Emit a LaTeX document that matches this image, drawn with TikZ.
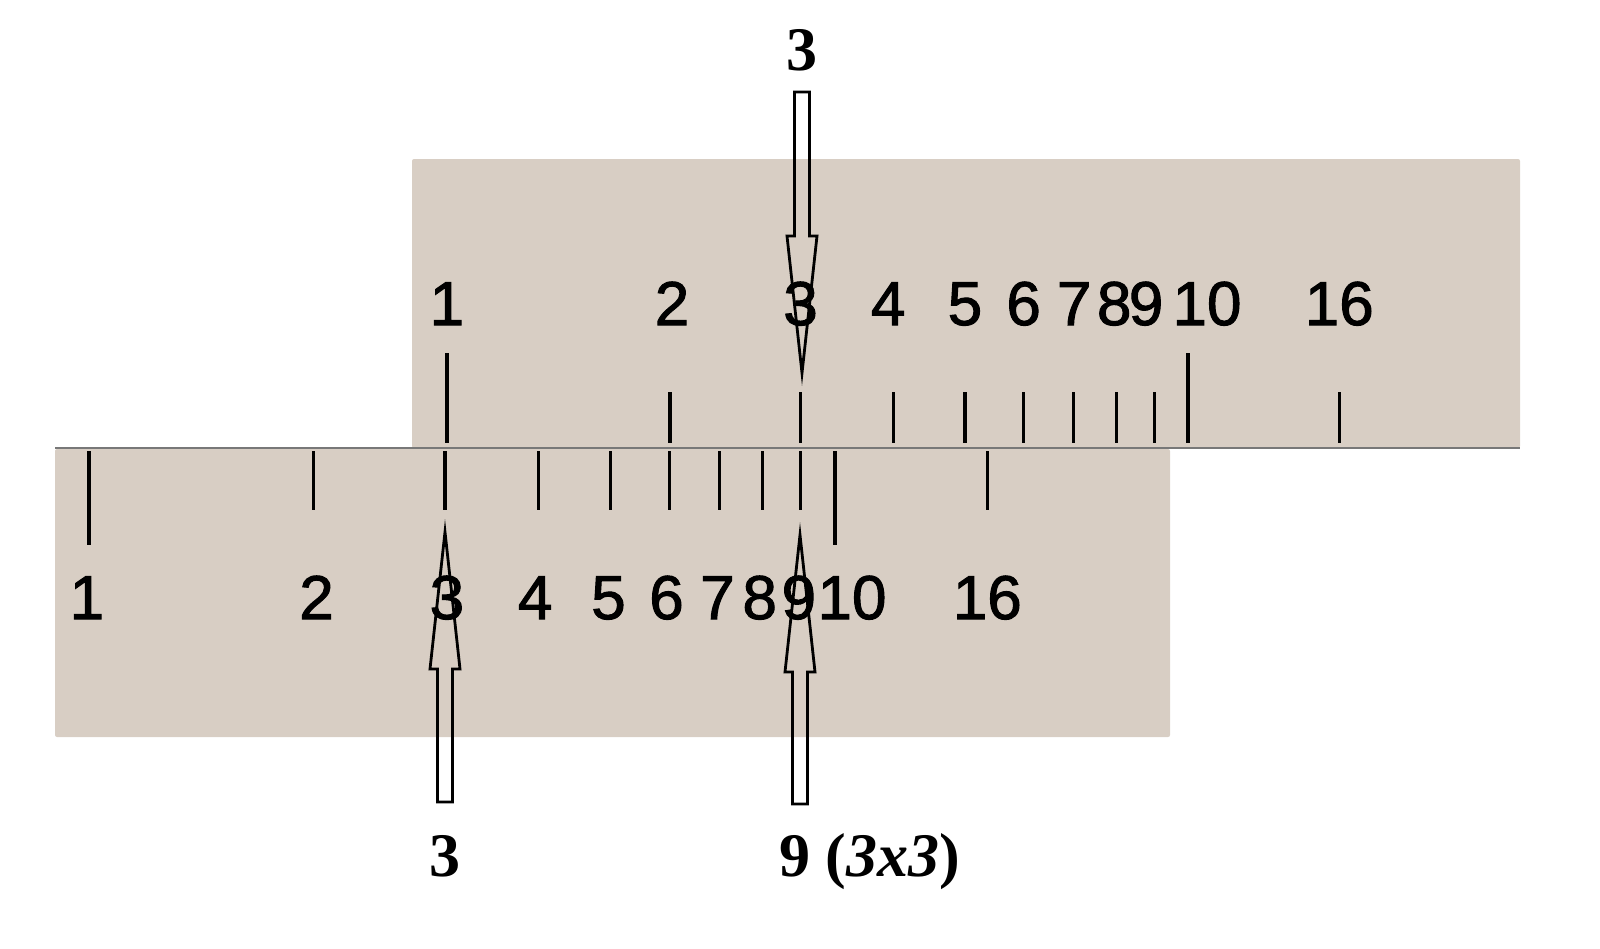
\documentclass[tikz,border=0pt]{standalone}
\usepackage{fontspec}
\setmainfont{Liberation Serif}
\newfontfamily\rulerfont[FakeBold=1.6]{Liberation Sans}
\usetikzlibrary{calc}
\definecolor{rulerbeige}{RGB}{216,206,196}
\definecolor{edgegray}{RGB}{120,120,120}
\tikzset{
    ruler/.style={fill=rulerbeige, rounded corners=2pt},
    tick/.style={line width=3.2pt},
    scalenum/.style={font=\rulerfont\fontsize{62}{62}\selectfont, inner sep=0pt, anchor=base},
    caption/.style={font=\bfseries\fontsize{62}{62}\selectfont, inner sep=0pt, anchor=base},
    hollow/.style={draw, line width=2.8pt, line join=miter}
}
% open arrow from a tail to a tip, straight up or down
\newcommand\hollowarrow[2]{%
    \coordinate (#1s) at ($(#2)!137pt!(#1)$);
    \draw[hollow]
        ($(#1)+(-7.5,0)$) -- ($(#1s)+(-7.5,0)$) -- ($(#1s)+(-15,0)$) -- (#2)
        -- ($(#1s)+(15,0)$) -- ($(#1s)+(7.5,0)$) -- ($(#1)+(7.5,0)$) -- cycle;
}
\begin{document}
\begin{tikzpicture}[x=1pt,y=-1pt]
    \useasboundingbox (0,0) rectangle (1600,948);
    % the two rulers
    \fill[ruler]
        (412,159) rectangle (1520,448);
    \fill[ruler]
        (55,449) rectangle (1170,737);
    \draw[edgegray, line width=2pt]
        (55,448) -- (1520,448);
    % upper scale
    \foreach \v/\dx in {1/0,2/2,3/0,4/-5,5/0,6/0,7/1,8/-2,9/-8,10/19,16/0}{
        \pgfmathsetmacro\xt{447+741*ln(\v)/ln(10)}
        \ifnum\v=1 \def\ytop{353}\else\ifnum\v=10 \def\ytop{353}\else\def\ytop{392}\fi\fi
        \draw[tick] (\xt,\ytop) -- (\xt,443);
        \node[scalenum] (top\v) at (\xt+\dx,325) {\v};
    }
    % lower scale
    \foreach \v/\dx in {1/-2,2/3,3/2,4/-3,5/-2,6/-3,7/-2,8/-3,9/-2,10/17,16/0}{
        \pgfmathsetmacro\xb{89+746*ln(\v)/ln(10)}
        \ifnum\v=1 \def\ybot{545}\else\ifnum\v=10 \def\ybot{545}\else\def\ybot{510}\fi\fi
        \draw[tick] (\xb,451) -- (\xb,\ybot);
        \node[scalenum] (bot\v) at (\xb+\dx,619) {\v};
    }
    % readings
    \node[caption] (factorTop) at (802,70) {3};
    \coordinate (tailA) at (802,92);
    \coordinate (tipA) at (802,373);
    \hollowarrow{tailA}{tipA}
    \node[caption] (factorBot) at (445,876) {3};
    \coordinate (tailB) at (445,802);
    \coordinate (tipB) at (445,532);
    \hollowarrow{tailB}{tipB}
    \node[caption, anchor=base west] (product) at (779,876) {9 (\textit{3x3})};
    \coordinate (tailC) at (800,804);
    \coordinate (tipC) at (800,535);
    \hollowarrow{tailC}{tipC}
\end{tikzpicture}
\end{document}
